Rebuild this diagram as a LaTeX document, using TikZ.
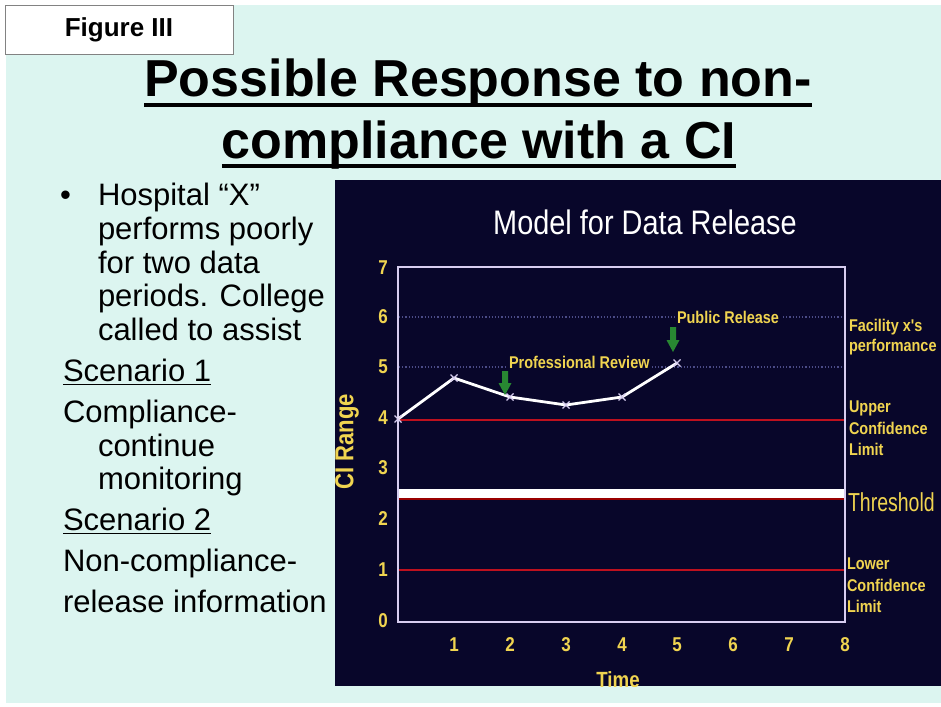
\documentclass[tikz,border=0pt]{standalone}
\usepackage{fontspec}
\usetikzlibrary{shapes.misc}
\setmainfont{Liberation Sans}
\newfontfamily\condfont[FakeStretch=0.85]{Liberation Sans}
\newfontfamily\narrowfont[FakeStretch=0.75]{Liberation Sans}
\definecolor{slidebg}{RGB}{220,245,240}
\definecolor{chartbg}{RGB}{8,6,42}
\definecolor{ylw}{RGB}{240,212,80}
\definecolor{redline}{RGB}{190,16,30}
\definecolor{grn}{RGB}{40,135,50}
\definecolor{framec}{RGB}{215,205,240}
\definecolor{dotc}{RGB}{75,75,135}
\definecolor{boxgray}{RGB}{130,130,130}
\begin{document}
\begin{tikzpicture}[x=1pt,y=-1pt,
  every node/.style={inner sep=0pt, outer sep=0pt},
  titletext/.style={font=\fontsize{52}{60}\selectfont\bfseries, anchor=base},
  bodytext/.style={font=\fontsize{31}{34}\selectfont, anchor=base west},
  ylab/.style={font=\condfont\fontsize{17}{20}\selectfont\bfseries, text=ylw, anchor=base west},
  numlab/.style={font=\condfont\fontsize{20}{22}\selectfont\bfseries, text=ylw, anchor=center},
  datapt/.style={draw=framec, line width=1.2pt, cross out, minimum size=7pt},
  greenarrow/.style={fill=grn}]
\useasboundingbox (0,0) rectangle (941,706);
\fill[white] (0,0) rectangle (941,706);
\fill[slidebg] (6,5) rectangle (941,703);

% Figure label box
\node[draw=boxgray, fill=white, minimum width=228pt, minimum height=49pt,
      font=\fontsize{26}{30}\selectfont\bfseries] (fig) at (119,29.5) {Figure III};

% Title
\node[titletext] (t1) at (478,97) {Possible Response to non-};
\node[titletext] (t2) at (479,158) {compliance with a CI};
\draw[line width=3.5pt] ([yshift=-8pt]t1.base west) -- ([yshift=-8pt]t1.base east);
\draw[line width=3.5pt] ([yshift=-8pt]t2.base west) -- ([yshift=-8pt]t2.base east);

% Left text
\node[bodytext] (bul) at (60,205) {•};
\node[bodytext] (h1) at (98,205) {Hospital “X”};
\node[bodytext] (h2) at (98,239) {performs poorly};
\node[bodytext] (h3) at (98,273) {for two data};
\node[bodytext] (h4) at (98,306) {periods. College};
\node[bodytext] (h5) at (98,340) {called to assist};
\node[bodytext] (sc1) at (63,381) {Scenario 1};
\draw[line width=1.6pt] ([yshift=-3.5pt]sc1.base west) -- ([yshift=-3.5pt]sc1.base east);
\node[bodytext] (c1) at (63,422) {Compliance-};
\node[bodytext] (c2) at (98,456) {continue};
\node[bodytext] (c3) at (98,489) {monitoring};
\node[bodytext] (sc2) at (63,530) {Scenario 2};
\draw[line width=1.6pt] ([yshift=-3.5pt]sc2.base west) -- ([yshift=-3.5pt]sc2.base east);
\node[bodytext] (n1) at (63,571) {Non-compliance-};
\node[bodytext] (n2) at (63,612) {release information};

% Chart background
\fill[chartbg] (335,180) rectangle (941,686);
\begin{scope}
\clip (335,180) rectangle (941,686);
\node[font=\condfont\fontsize{34}{40}\selectfont, text=white] (ctitle) at (645,222) {Model for Data Release};

% grid lines
\draw[dotc, dotted, line width=1.2pt] (399,317) -- (844,317);
\draw[dotc, dotted, line width=1.2pt] (399,367) -- (844,367);
\draw[redline, line width=2.6pt] (399,420) -- (844,420);
\draw[redline, line width=1.8pt] (399,570) -- (844,570);
\fill[red!60!black] (399,497) rectangle (844,500);
\fill[white] (399,489) rectangle (844,498);

% frame
\draw[framec, line width=1.8pt] (398,267) rectangle (845,622);

% y axis numbers
\node[numlab] (y7) at (383,268) {7};
\node[numlab] (y6) at (383,317) {6};
\node[numlab] (y5) at (383,367) {5};
\node[numlab] (y4) at (383,418) {4};
\node[numlab] (y3) at (383,468) {3};
\node[numlab] (y2) at (383,519) {2};
\node[numlab] (y1) at (383,570) {1};
\node[numlab] (y0) at (383,621) {0};
% x axis numbers
\node[numlab] (x1) at (454,645) {1};
\node[numlab] (x2) at (510,645) {2};
\node[numlab] (x3) at (566,645) {3};
\node[numlab] (x4) at (622,645) {4};
\node[numlab] (x5) at (677,645) {5};
\node[numlab] (x6) at (733,645) {6};
\node[numlab] (x7) at (789,645) {7};
\node[numlab] (x8) at (845,645) {8};

% axis titles
\node[font=\condfont\fontsize{26}{30}\selectfont\bfseries, text=ylw, rotate=90] (cir) at (347,442) {CI Range};
\node[font=\condfont\fontsize{22}{26}\selectfont\bfseries, text=ylw, anchor=base] (time) at (618,687) {Time};

% labels
\node[ylab, fill=chartbg, inner sep=2pt] (prof) at (507,368) {Professional Review};
\node[ylab, fill=chartbg, inner sep=2pt] (pub) at (675,323) {Public Release};
\node[ylab] (f1) at (849,331) {Facility x's};
\node[ylab] (f2) at (849,351) {performance};
\node[ylab] (u1) at (849,412) {Upper};
\node[ylab] (u2) at (849,434) {Confidence};
\node[ylab] (u3) at (849,455) {Limit};
\node[font=\narrowfont\fontsize{26}{30}\selectfont, text=ylw, anchor=base west] (thr) at (848,511) {Threshold};
\node[ylab] (l1) at (847,569) {Lower};
\node[ylab] (l2) at (847,591) {Confidence};
\node[ylab] (l3) at (847,612) {Limit};

% data
\coordinate (p0) at (398,419);
\coordinate (p1) at (454,378);
\coordinate (p2) at (510,397);
\coordinate (p3) at (566,405);
\coordinate (p4) at (622,397);
\coordinate (p5) at (677,363);
\draw[white, line width=2.8pt, line join=round] (p0) -- (p1) -- (p2) -- (p3) -- (p4) -- (p5);
\foreach \p in {p0,p1,p2,p3,p4,p5} \node[datapt, name=m\p] at (\p) {};

% green arrows
\fill[greenarrow] (502,371) -- (508,371) -- (508,383) -- (511.5,383) -- (505,395) -- (498.5,383) -- (502,383) -- cycle;
\fill[greenarrow] (670,327) -- (676,327) -- (676,340) -- (679.5,340) -- (673,352) -- (666.5,340) -- (670,340) -- cycle;
\end{scope}
\end{tikzpicture}
\end{document}
